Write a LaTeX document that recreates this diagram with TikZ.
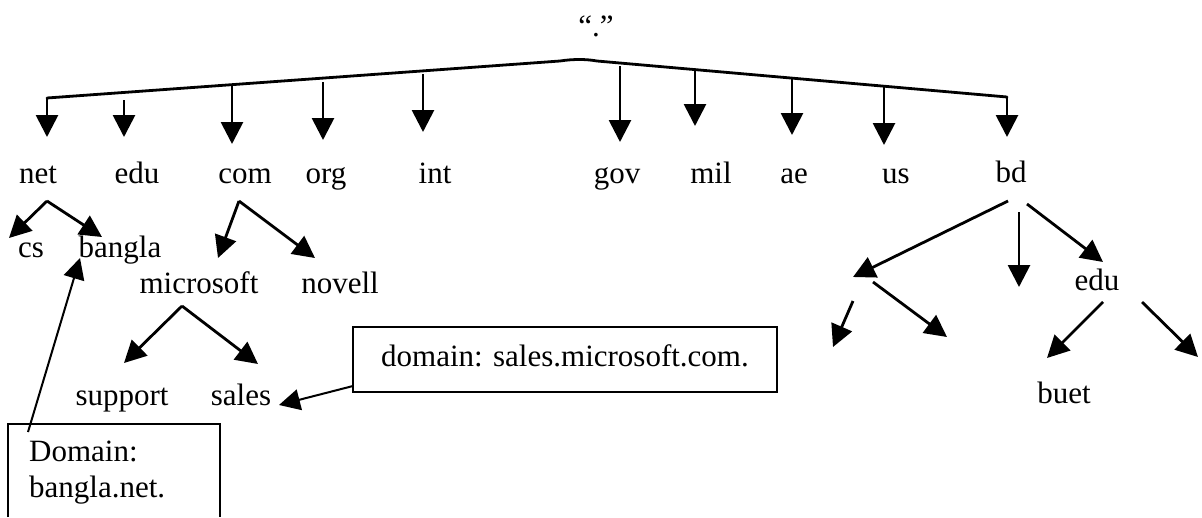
\documentclass[tikz,border=0pt]{standalone}
\usepackage{fontspec}
\setmainfont{Liberation Serif}
\usetikzlibrary{arrows.meta}
\begin{document}
\begin{tikzpicture}[x=1pt,y=-1pt,
  lbl/.style={font=\fontsize{31}{36}\selectfont, inner sep=0pt, anchor=base},
  link/.style={line width=2.8pt, -{Triangle[width=22pt,length=22pt]}},
  bar/.style={line width=2.8pt, line cap=round, line join=round},
  pointer/.style={line width=2pt, -{Triangle[width=21pt,length=21pt]}},
  framed/.style={line width=2.2pt}]
\useasboundingbox (0,0) rectangle (1202,517);

% root label
\node[lbl] (root) at (596,36) {“.”};

% top level domains
\node[lbl] (net) at (38,183) {net};
\node[lbl] (edu) at (137,183) {edu};
\node[lbl] (com) at (245,183) {com};
\node[lbl] (org) at (326,183) {org};
\node[lbl] (int) at (435,183) {int};
\node[lbl] (gov) at (617,183) {gov};
\node[lbl] (mil) at (711,183) {mil};
\node[lbl] (ae)  at (794,183) {ae};
\node[lbl] (us)  at (896,183) {us};
\node[lbl] (bd)  at (1011,182) {bd};

% lower levels
\node[lbl] (cs) at (31,257) {cs};
\node[lbl] (bangla) at (120,257) {bangla};
\node[lbl] (microsoft) at (199,293) {microsoft};
\node[lbl] (novell) at (340,293) {novell};
\node[lbl] (support) at (122,405) {support};
\node[lbl] (sales) at (241,405) {sales};
\node[lbl] (bdedu) at (1097,290) {edu};
\node[lbl] (buet) at (1064,403) {buet};

% branching bar under the root
\coordinate (barL) at (47,98);
\coordinate (barR) at (1007,97);
\draw[bar] (barL) -- (560,61) .. controls (573,59) and (586,59) .. (597,61) -- (barR);

% tips of the top level arrows
\coordinate (tNet) at (47,137);
\coordinate (tEdu) at (124,137);
\coordinate (tCom) at (232,144);
\coordinate (tOrg) at (323,140);
\coordinate (tInt) at (423,132);
\coordinate (tGov) at (620,142);
\coordinate (tMil) at (695,126);
\coordinate (tAe)  at (792,135);
\coordinate (tUs)  at (884,145);
\coordinate (tBd)  at (1007,137);

\draw[link] (barL) -- (tNet);
\draw[link] (124,100) -- (tEdu);
\draw[link] (232,85) -- (tCom);
\draw[link] (323,82) -- (tOrg);
\draw[link] (423,74) -- (tInt);
\draw[link] (620,66) -- (tGov);
\draw[link] (695,69) -- (tMil);
\draw[link] (792,77) -- (tAe);
\draw[link] (884,85) -- (tUs);
\draw[link] (barR) -- (tBd);

% net subtree
\coordinate (netA) at (47,201);
\draw[link] (netA) -- (9,238);
\draw[link] (netA) -- (102,237);

% com subtree
\coordinate (comA) at (239,201);
\draw[link] (comA) -- (218,258);
\draw[link] (comA) -- (315,258);

% microsoft subtree
\coordinate (msA) at (182,306);
\draw[link] (msA) -- (124,363);
\draw[link] (msA) -- (258,364);

% bd subtree
\coordinate (bdL) at (853,277);
\draw[link] (1008,201) -- (bdL);
\draw[link] (1019,212) -- (1019,287);
\draw[link] (1027,204) -- (1103,262);
\draw[link] (853,301) -- (833,347);
\draw[link] (873,282) -- (947,337);
\draw[link] (1103,302) -- (1047,358);
\draw[link] (1142,302) -- (1198,357);

% callout for sales.microsoft.com.
\node[lbl, anchor=center, draw, framed, minimum width=424pt, minimum height=65pt,
      text height=13pt, text depth=0pt] (salesbox) at (565,359.5)
  {domain: sales.microsoft.com.};
\coordinate (salesTail) at (353,386);
\draw[pointer] (salesTail) -- (279,405);

% callout for bangla.net.
\node[lbl, anchor=base west] (banglabox) at (29,461)
  {\begin{tabular}[t]{@{}l@{}}Domain:\\bangla.net.\end{tabular}};
\draw[framed] (8,517) -- (8,424) -- (220,424) -- (220,517);
\coordinate (banglaTail) at (28,432);
\draw[pointer] (banglaTail) -- (80,258);
\end{tikzpicture}
\end{document}
